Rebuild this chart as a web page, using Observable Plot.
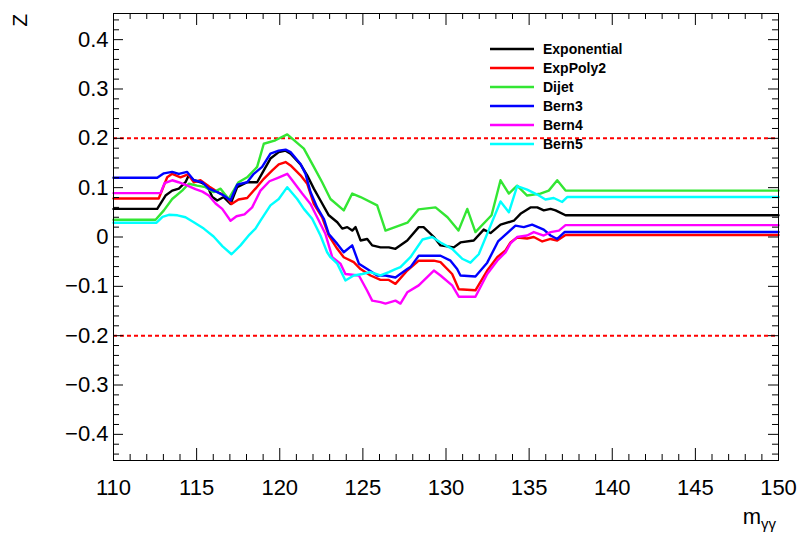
<!DOCTYPE html>
<html><head><meta charset="utf-8">
<script src="https://cdn.jsdelivr.net/npm/d3@7"></script>
<script src="https://cdn.jsdelivr.net/npm/@observablehq/plot@0.6"></script>
<style>
body{margin:0;background:#fff;font-family:"Liberation Sans",Arial,sans-serif}
#wrap{position:relative;width:798px;height:538px}
</style></head><body><div id="wrap"></div>
<script>
// [m_gammagamma, Z] per background function
const exponential = [[110,0.057],[112.63,0.057],[113.13,0.084],[113.53,0.094],[113.93,0.098],[114.33,0.111],[114.53,0.125],[114.83,0.115],[115.23,0.111],[115.64,0.104],[115.94,0.081],[116.24,0.074],[116.63,0.081],[117.04,0.067],[117.44,0.101],[118.04,0.111],[118.64,0.111],[119.04,0.135],[119.44,0.159],[119.94,0.172],[120.35,0.175],[120.65,0.169],[121.25,0.147],[121.65,0.125],[122.05,0.098],[122.45,0.074],[122.95,0.044],[123.46,0.030],[123.76,0.017],[124.06,0.020],[124.36,0.013],[124.56,0.020],[124.86,-0.007],[125.26,-0.004],[125.56,-0.017],[126.06,-0.021],[126.56,-0.021],[126.96,-0.024],[127.67,-0.007],[128.36,0.020],[128.65,0.020],[129.27,0.000],[129.67,-0.017],[130.47,-0.021],[130.87,-0.011],[131.67,-0.007],[132.27,0.015],[132.68,0.008],[133.28,0.025],[134.08,0.033],[134.48,0.047],[135.08,0.060],[135.49,0.060],[135.88,0.054],[136.29,0.057],[136.59,0.054],[137.19,0.044],[150,0.044]];
const expPoly2 = [[110,0.078],[112.72,0.078],[113.23,0.121],[113.53,0.128],[114.03,0.121],[114.48,0.127],[114.83,0.111],[115.23,0.115],[115.77,0.102],[116.32,0.090],[116.74,0.084],[117.10,0.067],[117.52,0.076],[118.04,0.079],[118.54,0.098],[119.04,0.118],[119.55,0.135],[119.94,0.147],[120.35,0.152],[120.65,0.145],[121.25,0.125],[121.65,0.108],[122.05,0.067],[122.55,0.040],[122.95,0.003],[123.46,-0.024],[123.85,-0.041],[124.45,-0.051],[124.86,-0.065],[125.46,-0.078],[126.06,-0.087],[126.56,-0.087],[126.96,-0.095],[127.67,-0.068],[128.36,-0.048],[129.27,-0.048],[129.67,-0.051],[130.37,-0.075],[130.77,-0.106],[131.77,-0.108],[132.48,-0.068],[133.08,-0.041],[133.58,-0.027],[133.88,-0.011],[134.28,-0.001],[134.88,-0.003],[135.28,0.000],[135.79,-0.009],[136.29,-0.004],[136.69,-0.007],[137.19,0.004],[150,0.004]];
const dijet = [[110,0.035],[112.53,0.035],[113.03,0.054],[113.53,0.077],[114.13,0.094],[114.53,0.108],[115.03,0.104],[115.53,0.101],[116.02,0.091],[116.44,0.098],[116.92,0.077],[117.52,0.111],[118.04,0.121],[118.64,0.142],[119.04,0.189],[119.74,0.196],[120.45,0.208],[121.45,0.179],[122.05,0.142],[122.55,0.111],[123.05,0.077],[123.85,0.054],[124.36,0.088],[124.86,0.081],[125.86,0.064],[126.36,0.013],[127.68,0.029],[128.35,0.056],[129.37,0.060],[130.09,0.040],[130.75,0.013],[131.28,0.057],[131.77,0.010],[132.74,0.044],[133.28,0.115],[133.78,0.088],[134.28,0.104],[134.88,0.084],[135.68,0.088],[136.18,0.094],[136.69,0.115],[137.19,0.094],[150,0.094]];
const bern3 = [[110,0.120],[112.63,0.120],[113.03,0.129],[113.53,0.132],[113.93,0.128],[114.43,0.132],[114.83,0.115],[115.34,0.111],[115.73,0.098],[116.24,0.091],[116.63,0.084],[117.04,0.074],[117.44,0.106],[118.04,0.111],[118.44,0.128],[118.94,0.142],[119.44,0.169],[119.94,0.175],[120.35,0.177],[120.65,0.172],[121.25,0.148],[121.55,0.128],[121.85,0.091],[122.25,0.060],[122.65,0.037],[122.95,0.006],[123.46,-0.014],[123.85,-0.031],[124.36,-0.017],[124.76,-0.054],[125.26,-0.065],[125.86,-0.078],[126.36,-0.078],[126.96,-0.082],[127.67,-0.065],[127.86,-0.061],[128.36,-0.038],[129.67,-0.038],[130.27,-0.048],[130.67,-0.065],[130.87,-0.078],[131.77,-0.080],[132.48,-0.052],[133.13,-0.009],[133.58,0.005],[134.18,0.023],[134.68,0.020],[135.18,0.025],[135.88,0.015],[136.29,0.003],[136.69,-0.004],[137.13,0.010],[150,0.010]];
const bern4 = [[110,0.089],[112.83,0.089],[113.07,0.109],[113.53,0.115],[113.91,0.111],[114.45,0.104],[114.93,0.097],[115.35,0.092],[115.73,0.084],[116.14,0.068],[116.54,0.057],[117.04,0.033],[117.40,0.042],[117.88,0.046],[118.34,0.060],[118.84,0.094],[119.38,0.113],[119.89,0.120],[120.45,0.128],[120.75,0.115],[121.35,0.088],[121.85,0.067],[122.25,0.040],[122.75,0.006],[123.16,-0.041],[123.65,-0.054],[123.95,-0.075],[124.76,-0.078],[125.26,-0.109],[125.56,-0.129],[126.06,-0.132],[126.36,-0.135],[126.96,-0.129],[127.26,-0.135],[127.67,-0.112],[128.36,-0.098],[129.27,-0.068],[129.67,-0.078],[130.37,-0.098],[130.77,-0.121],[131.77,-0.121],[132.48,-0.075],[133.08,-0.048],[133.58,-0.031],[133.88,-0.013],[134.28,0.000],[134.88,0.003],[135.28,0.010],[135.88,0.003],[136.29,0.010],[136.79,0.013],[137.19,0.024],[150,0.024]];
const bern5 = [[110,0.029],[112.59,0.029],[112.95,0.041],[113.33,0.045],[113.85,0.044],[114.33,0.040],[114.83,0.030],[115.43,0.017],[116.02,0.001],[116.56,-0.019],[117.10,-0.035],[117.64,-0.017],[118.18,0.005],[118.54,0.017],[118.84,0.033],[119.44,0.064],[119.94,0.077],[120.45,0.101],[121.05,0.077],[121.45,0.057],[121.95,0.037],[122.45,0.003],[122.85,-0.031],[123.05,-0.041],[123.46,-0.054],[123.95,-0.088],[124.45,-0.078],[124.96,-0.075],[125.46,-0.071],[126.06,-0.078],[126.56,-0.071],[126.96,-0.065],[127.26,-0.061],[127.86,-0.041],[128.59,-0.005],[129.17,0.000],[129.67,-0.011],[130.37,-0.024],[130.97,-0.044],[131.47,-0.052],[131.97,-0.035],[132.68,0.023],[133.28,0.072],[133.78,0.050],[134.28,0.103],[134.88,0.096],[135.49,0.086],[135.98,0.076],[136.48,0.079],[136.99,0.071],[137.29,0.081],[150,0.081]];

const seriesNames = ["Exponential","ExpPoly2","Dijet","Bern3","Bern4","Bern5"];
const seriesColors = ["#000000","#ff0000","#33e633","#0000ff","#ff00ff","#00ffff"];
const seriesData = [exponential, expPoly2, dijet, bern3, bern4, bern5];
const thresholds = [0.2, -0.2];
const xMajorTicks = [110,115,120,125,130,135,140,145,150];
const xMinorTicks = [111,112,113,114,116,117,118,119,121,122,123,124,126,127,128,129,131,132,133,134,136,137,138,139,141,142,143,144,146,147,148,149];
const yMajorTicks = [-0.4,-0.3,-0.2,-0.1,0,0.1,0.2,0.3,0.4];
const yMinorTicks = [-0.44,-0.42,-0.38,-0.36,-0.34,-0.32,-0.28,-0.26,-0.24,-0.22,-0.18,-0.16,-0.14,-0.12,-0.08,-0.06,-0.04,-0.02,0.02,0.04,0.06,0.08,0.12,0.14,0.16,0.18,0.22,0.24,0.26,0.28,0.32,0.34,0.36,0.38,0.42,0.44];

const W = 798, H = 538, mL = 113, mR = 20, mT = 13, mB = 78;
const pw = W - mL - mR, ph = H - mT - mB;

const rows = seriesNames.flatMap((n, i) => seriesData[i].map(([m, z]) => ({name: n, m, z})));
const fmt = d => d === 0 ? "0" : (d < 0 ? "\u2212" : "") + Math.abs(d).toFixed(1);

const chart = Plot.plot({
  width: W, height: H,
  marginLeft: mL, marginRight: mR, marginTop: mT, marginBottom: mB,
  x: {domain: [110, 150]},
  y: {domain: [-0.453, 0.453]},
  color: {domain: seriesNames, range: seriesColors},
  style: {fontFamily: "'Liberation Sans', Arial, sans-serif", fontSize: "22px", background: "white", color: "black", overflow: "visible"},
  marks: [
    Plot.ruleY(thresholds, {stroke: "#ff0000", strokeWidth: 2, strokeDasharray: "4,3"}),
    Plot.line(rows, {x: "m", y: "z", z: "name", stroke: "name", strokeWidth: 2.4}),
    Plot.ruleX(xMajorTicks, {insetTop: ph - 12, stroke: "black"}),
    Plot.ruleX(xMajorTicks, {insetBottom: ph - 12, stroke: "black"}),
    Plot.ruleX(xMinorTicks, {insetTop: ph - 6, stroke: "black"}),
    Plot.ruleX(xMinorTicks, {insetBottom: ph - 6, stroke: "black"}),
    Plot.ruleY(yMajorTicks, {insetRight: pw - 10, stroke: "black"}),
    Plot.ruleY(yMajorTicks, {insetLeft: pw - 10, stroke: "black"}),
    Plot.ruleY(yMinorTicks, {insetRight: pw - 6, stroke: "black"}),
    Plot.ruleY(yMinorTicks, {insetLeft: pw - 6, stroke: "black"}),
    Plot.frame({stroke: "black"}),
    Plot.axisX(xMajorTicks, {tickSize: 0, tickPadding: 19, label: null, fontSize: 22}),
    Plot.axisY(yMajorTicks, {tickSize: 0, tickPadding: 5, label: null, fontSize: 22, tickFormat: fmt})
  ]
});
document.getElementById("wrap").appendChild(chart);

const svg = d3.select(chart);
// Y-axis title
svg.append("text")
  .attr("transform", "translate(27,14) rotate(-90)")
  .attr("text-anchor", "end")
  .attr("font-size", 21)
  .attr("fill", "black")
  .text("Z");
// X-axis title
const xt = svg.append("text")
  .attr("x", 776).attr("y", 524)
  .attr("text-anchor", "end")
  .attr("font-size", 22)
  .attr("fill", "black");
xt.append("tspan").text("m");
xt.append("tspan").attr("font-size", 15).attr("dy", 5).text("\u03b3\u03b3");

// Legend
const lg = svg.append("g").attr("font-size", 14).attr("font-weight", "bold").attr("text-anchor", "start");
seriesNames.forEach((n, i) => {
  const yy = 49 + i * 19;
  lg.append("line").attr("x1", 490).attr("x2", 534).attr("y1", yy).attr("y2", yy)
    .attr("stroke", seriesColors[i]).attr("stroke-width", 2.5);
  lg.append("text").attr("x", 543).attr("y", yy).attr("dy", "0.35em")
    .attr("text-anchor", "start").attr("fill", "black").text(n);
});
</script></body></html>
